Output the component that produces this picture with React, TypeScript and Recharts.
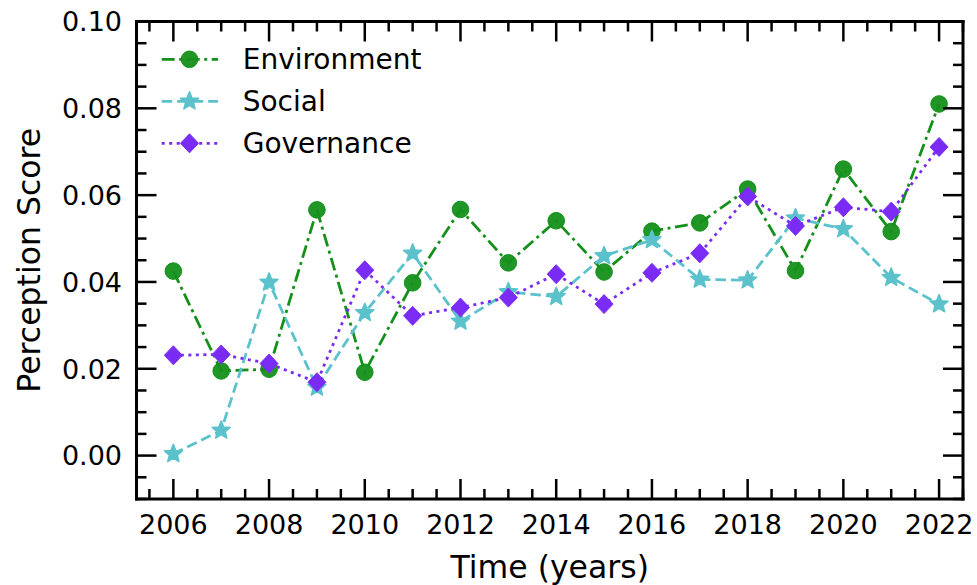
import React from 'react';
import { LineChart, Line, XAxis, YAxis, Legend } from 'recharts';

const years = [2006, 2007, 2008, 2009, 2010, 2011, 2012, 2013, 2014, 2015, 2016, 2017, 2018, 2019, 2020, 2021, 2022];
const environment = [0.0425, 0.0195, 0.0199, 0.0566, 0.0192, 0.0398, 0.0567, 0.0444, 0.0541, 0.0423, 0.0517, 0.0536, 0.0614, 0.0426, 0.0660, 0.0516, 0.0810];
const social = [0.0004, 0.0058, 0.0399, 0.0157, 0.0329, 0.0466, 0.0309, 0.0377, 0.0366, 0.0460, 0.0497, 0.0406, 0.0404, 0.0547, 0.0522, 0.0410, 0.0349];
const governance = [0.0231, 0.0233, 0.0212, 0.0169, 0.0427, 0.0322, 0.0341, 0.0364, 0.0418, 0.0349, 0.0421, 0.0466, 0.0597, 0.0529, 0.0572, 0.0562, 0.0711];

const seriesNames = ['Environment', 'Social', 'Governance'];
const seriesKeys = ['env', 'soc', 'gov'];
const seriesColors = ['#14901b', '#5bc2cc', '#7a2cf5'];
const seriesDash = ['13 4.5 3 4.5', '10.5 5', '3 4.5'];

const xDomain = [2005.23, 2022.5];
const yDomain = [-0.01, 0.1];

const xAllTicks: number[] = [];
for (let i = 0; i <= 34; i++) xAllTicks.push(2005.5 + i * 0.5);
const yAllTicks: number[] = [];
for (let i = 0; i <= 22; i++) yAllTicks.push(Math.round((-0.01 + i * 0.005) * 10000) / 10000);

const data = years.map((y, i) => ({ year: y, env: environment[i], soc: social[i], gov: governance[i] }));

const FONT = 'DejaVu Sans';
const MAJOR = 20;
const MINOR = 10;

const isXMajor = (v: number) => Math.abs(v - Math.round(v)) < 1e-6 && Math.round(v) % 2 === 0;
const isYMajor = (v: number) => Math.abs(v * 50 - Math.round(v * 50)) < 1e-6;

function starPath(cx: number, cy: number, R: number) {
  const pts: string[] = [];
  for (let i = 0; i < 10; i++) {
    const a = (-90 + i * 36) * Math.PI / 180;
    const r = i % 2 === 0 ? R : R * 0.44;
    pts.push(`${(cx + r * Math.cos(a)).toFixed(2)},${(cy + r * Math.sin(a)).toFixed(2)}`);
  }
  return 'M' + pts.join('L') + 'Z';
}

function Marker({ kind, cx, cy, color }: { kind: number; cx: number; cy: number; color: string }) {
  if (kind === 0) return <circle cx={cx} cy={cy} r={8.3} fill={color} stroke={color} strokeWidth={1} fillOpacity={0.95} />;
  if (kind === 1) return <path d={starPath(cx, cy, 9.5)} fill={color} stroke={color} strokeWidth={1.5} strokeLinejoin="round" />;
  return <path d={`M${cx},${cy - 9.5}L${cx + 9},${cy}L${cx},${cy + 9.5}L${cx - 9},${cy}Z`} fill={color} stroke={color} strokeWidth={1} />;
}

const BottomTick = (props: any) => {
  const { x, y, payload } = props;
  const v = payload.value;
  const major = isXMajor(v);
  return (
    <g>
      <line x1={x} x2={x} y1={y} y2={y - (major ? MAJOR : MINOR)} stroke="#000" strokeWidth={2.5} />
      {major && (
        <text x={x} y={y + 35} textAnchor="middle" fontFamily={FONT} fontSize={27} fill="#000">{String(Math.round(v))}</text>
      )}
    </g>
  );
};
const TopTick = (props: any) => {
  const { x, y, payload } = props;
  const major = isXMajor(payload.value);
  return <line x1={x} x2={x} y1={y} y2={y + (major ? MAJOR : MINOR)} stroke="#000" strokeWidth={2.5} />;
};
const LeftTick = (props: any) => {
  const { x, y, payload } = props;
  const v = payload.value;
  const major = isYMajor(v);
  return (
    <g>
      <line x1={x} x2={x + (major ? MAJOR : MINOR)} y1={y} y2={y} stroke="#000" strokeWidth={2.5} />
      {major && v >= 0 && (
        <text x={x - 14.5} y={y + 9.8} textAnchor="end" fontFamily={FONT} fontSize={27} fill="#000">{v.toFixed(2)}</text>
      )}
    </g>
  );
};
const RightTick = (props: any) => {
  const { x, y, payload } = props;
  const major = isYMajor(payload.value);
  return <line x1={x} x2={x - (major ? MAJOR : MINOR)} y1={y} y2={y} stroke="#000" strokeWidth={2.5} />;
};

const LegendContent = () => (
  <svg width={320} height={140} style={{ display: 'block' }}>
    {seriesNames.map((name, i) => {
      const cy = 29.3 + i * 42;
      return (
        <g key={name}>
          <line x1={11.7} x2={68} y1={cy} y2={cy} stroke={seriesColors[i]} strokeWidth={2.8} strokeDasharray={seriesDash[i]} />
          <Marker kind={i} cx={39.5} cy={cy} color={seriesColors[i]} />
          <text x={92.7} y={cy + 10} fontFamily={FONT} fontSize={28} fill="#000">{name}</text>
        </g>
      );
    })}
  </svg>
);

const axisLineStyle = { stroke: '#000', strokeWidth: 3, strokeLinecap: 'square' as const };

export default function App() {
  return (
    <div style={{ position: 'absolute', left: 0, top: 0, width: 977, height: 585, background: '#fff' }}>
      <LineChart width={977} height={585} data={data} margin={{ top: 20.5, right: 13, bottom: 0, left: 0 }}>
        <XAxis
          dataKey="year"
          type="number"
          domain={xDomain}
          allowDataOverflow
          ticks={xAllTicks}
          interval={0}
          tickSize={0}
          tickMargin={0}
          tickLine={false}
          tick={BottomTick}
          axisLine={axisLineStyle}
          height={86}
          label={{
            content: (p: any) => {
              const vb = p.viewBox;
              return (
                <text x={vb.x + vb.width / 2} y={578} textAnchor="middle" fontFamily={FONT} fontSize={31.5} fill="#000">Time (years)</text>
              );
            },
          }}
        />
        <XAxis
          xAxisId="top"
          dataKey="year"
          orientation="top"
          type="number"
          domain={xDomain}
          allowDataOverflow
          ticks={xAllTicks}
          interval={0}
          tickSize={0}
          tickMargin={0}
          tickLine={false}
          tick={TopTick}
          axisLine={axisLineStyle}
          height={1}
        />
        <YAxis
          type="number"
          domain={yDomain}
          allowDataOverflow
          ticks={yAllTicks}
          interval={0}
          tickSize={0}
          tickMargin={0}
          tickLine={false}
          tick={LeftTick}
          axisLine={axisLineStyle}
          width={136.5}
          label={{
            content: (p: any) => {
              const vb = p.viewBox;
              const cy = vb.y + vb.height / 2;
              return (
                <text x={40} y={cy} transform={`rotate(-90 40 ${cy})`} textAnchor="middle" fontFamily={FONT} fontSize={31.5} fill="#000">Perception Score</text>
              );
            },
          }}
        />
        <YAxis
          yAxisId="right"
          orientation="right"
          type="number"
          domain={yDomain}
          allowDataOverflow
          ticks={yAllTicks}
          interval={0}
          tickSize={0}
          tickMargin={0}
          tickLine={false}
          tick={RightTick}
          axisLine={axisLineStyle}
          width={1}
        />
        <Legend
          layout="horizontal"
          verticalAlign="middle"
          align="center"
          content={LegendContent}
          wrapperStyle={{ position: 'absolute', left: 150, top: 30, width: 320, height: 140 }}
        />
        <Line
          xAxisId="top"
          yAxisId="right"
          dataKey="env"
          stroke="none"
          strokeOpacity={0}
          dot={false}
          activeDot={false}
          legendType="none"
          isAnimationActive={false}
        />
        {seriesKeys.map((k, i) => (
          <Line
            key={k}
            dataKey={k}
            name={seriesNames[i]}
            stroke={seriesColors[i]}
            strokeWidth={2.8}
            strokeDasharray={seriesDash[i]}
            isAnimationActive={false}
            dot={(p: any) => <Marker key={`${k}-${p.index}`} kind={i} cx={p.cx} cy={p.cy} color={seriesColors[i]} />}
            activeDot={false}
          />
        ))}
      </LineChart>
    </div>
  );
}
